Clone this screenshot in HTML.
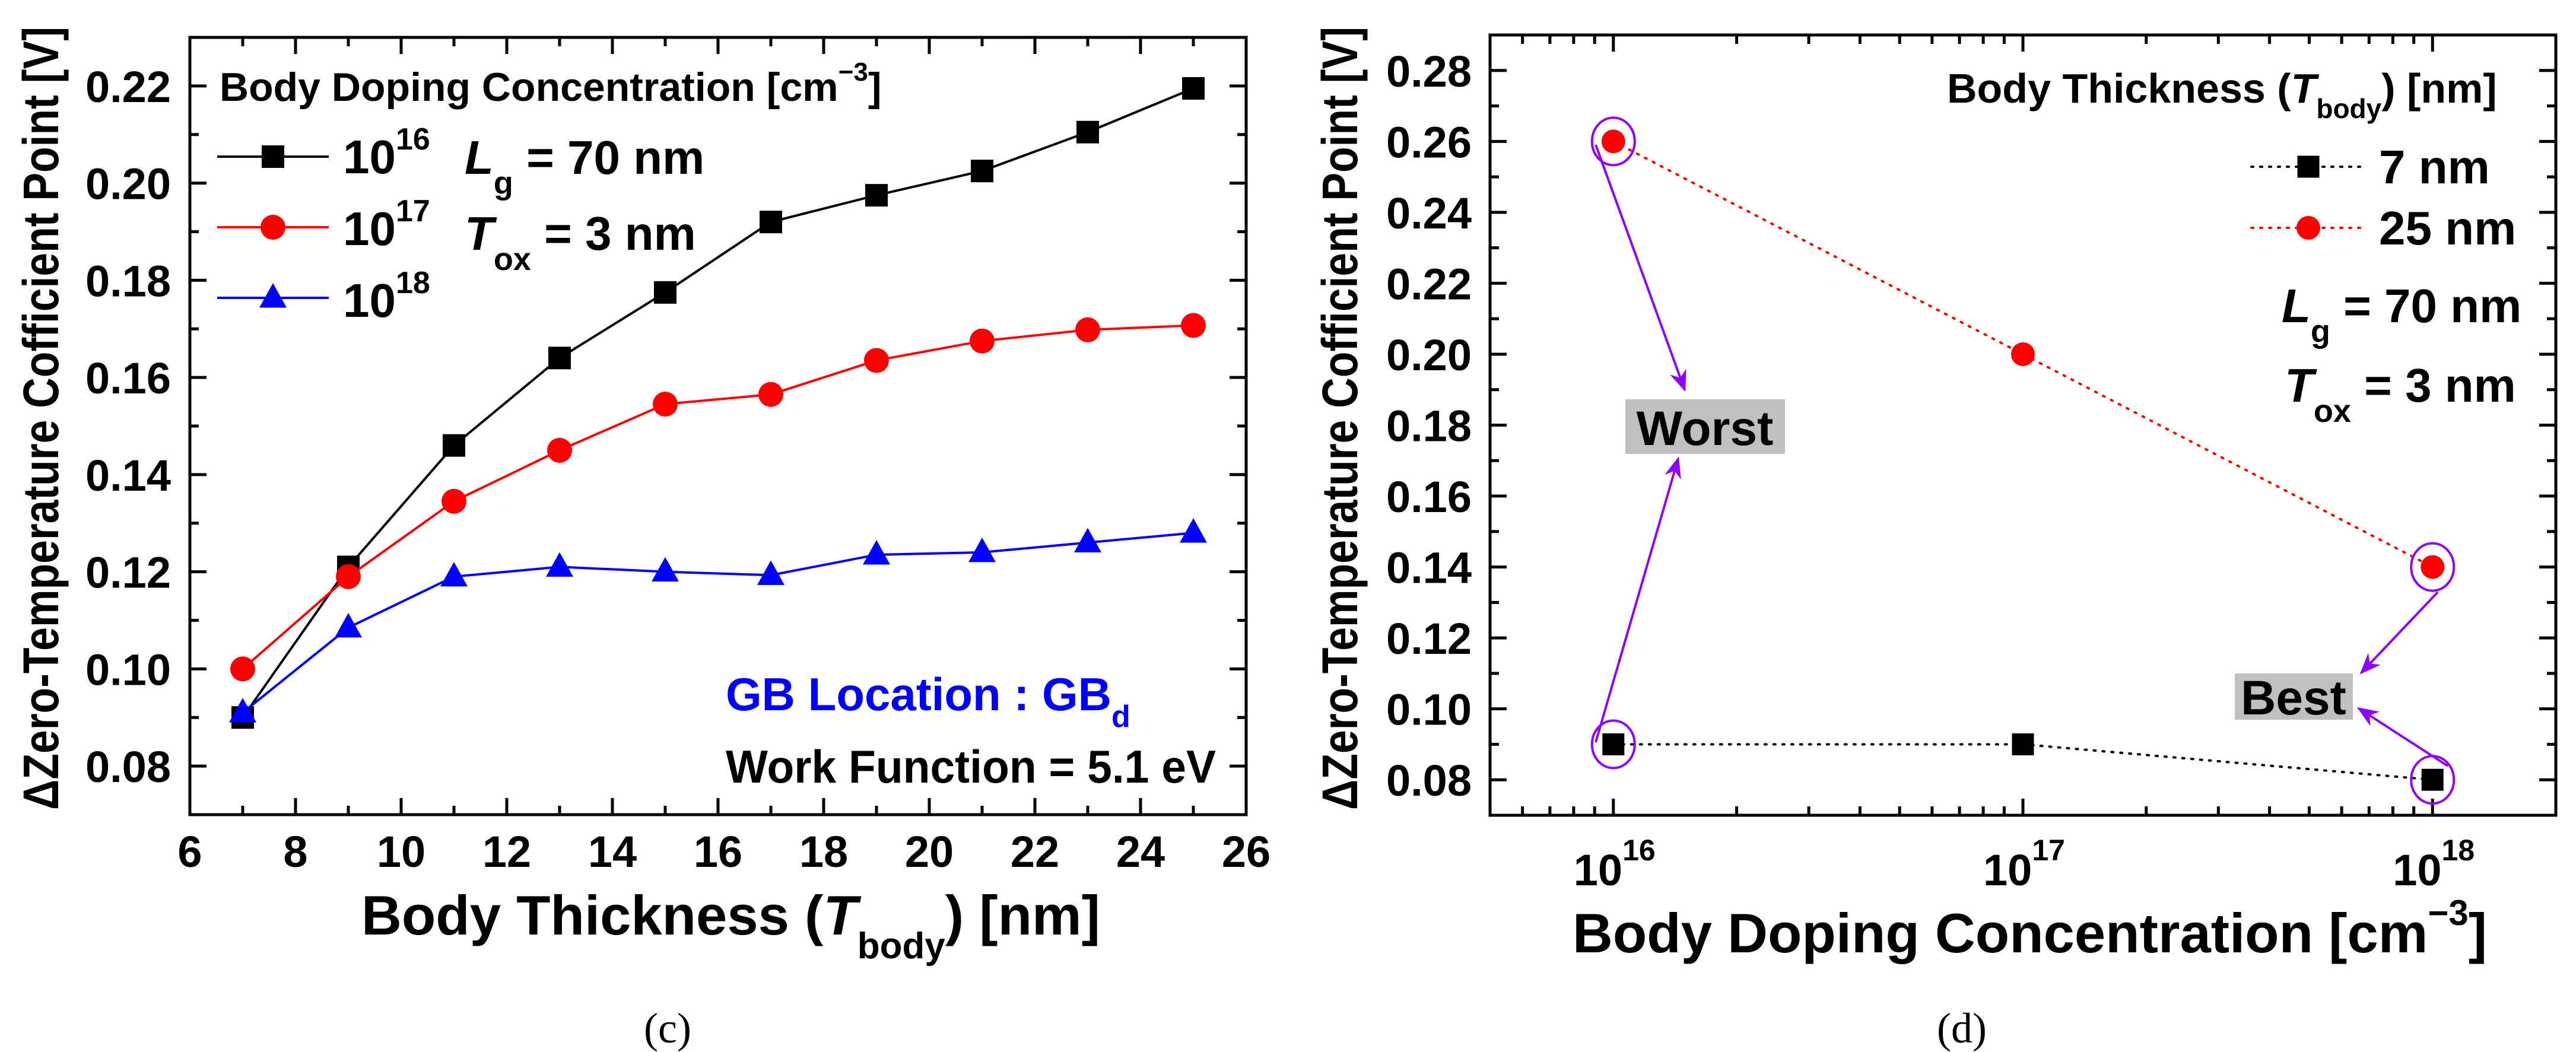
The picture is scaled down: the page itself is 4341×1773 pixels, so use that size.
<!DOCTYPE html>
<html><head><meta charset="utf-8"><style>
html,body{margin:0;padding:0;background:#fff;}
svg{display:block;font-family:"Liberation Sans",Arial,sans-serif;font-weight:bold;}
.serif{font-family:"Liberation Serif",serif;font-weight:normal;}
</style></head><body>
<svg id="fig" width="4341" height="1773" viewBox="0 0 4341 1773" xmlns="http://www.w3.org/2000/svg">
<rect x="0" y="0" width="4341" height="1773" fill="#fff"/>
<g id="left"></g>
<g id="right"></g>

<text transform="translate(98,705) rotate(-90)" text-anchor="middle" font-size="84" textLength="1320" lengthAdjust="spacingAndGlyphs">ΔZero-Temperature Cofficient Point [V]</text>
<text x="609" y="1575" font-size="94">Body Thickness (<tspan font-style="italic">T</tspan><tspan font-size="62" dy="40">body</tspan><tspan dy="-40">) [nm]</tspan></text>
<text x="370" y="170" font-size="68">Body Doping Concentration [cm<tspan font-size="44" dy="-34">−3</tspan><tspan dy="34">]</tspan></text>
<text x="578" y="292" font-size="80">10<tspan font-size="52" dy="-40">16</tspan></text>
<text x="578" y="413" font-size="80">10<tspan font-size="52" dy="-40">17</tspan></text>
<text x="578" y="534" font-size="80">10<tspan font-size="52" dy="-40">18</tspan></text>
<text x="783" y="293" font-size="80"><tspan font-style="italic">L</tspan><tspan font-size="54" dy="34">g</tspan><tspan dy="-34"> = 70 nm</tspan></text>
<text x="783" y="421" font-size="80"><tspan font-style="italic">T</tspan><tspan font-size="54" dy="34">ox</tspan><tspan dy="-34"> = 3 nm</tspan></text>
<text x="1223" y="1197" font-size="78" fill="#0000ff">GB Location : GB<tspan font-size="52" dy="28">d</tspan></text>
<text x="1223" y="1319" font-size="78" textLength="826" lengthAdjust="spacingAndGlyphs">Work Function = 5.1 eV</text>
<text class="serif" x="1125" y="1757" font-size="72" text-anchor="middle">(c)</text>

<text transform="translate(2287,705) rotate(-90)" text-anchor="middle" font-size="84" textLength="1320" lengthAdjust="spacingAndGlyphs">ΔZero-Temperature Cofficient Point [V]</text>
<text x="2650" y="1605" font-size="94">Body Doping Concentration [cm<tspan font-size="60" dy="-46">−3</tspan><tspan dy="46">]</tspan></text>
<text x="3281" y="173" font-size="70">Body Thickness (<tspan font-style="italic">T</tspan><tspan font-size="46" dy="26">body</tspan><tspan dy="-26">) [nm]</tspan></text>
<text x="4009" y="309" font-size="80">7 nm</text>
<text x="4009" y="412" font-size="80">25 nm</text>
<text x="3845" y="543" font-size="80"><tspan font-style="italic">L</tspan><tspan font-size="54" dy="34">g</tspan><tspan dy="-34"> = 70 nm</tspan></text>
<text x="3850" y="677" font-size="80"><tspan font-style="italic">T</tspan><tspan font-size="54" dy="34">ox</tspan><tspan dy="-34"> = 3 nm</tspan></text>
<rect x="2739" y="673" width="269" height="92" fill="#c0c0c0"/>
<text x="2873" y="750" font-size="82" text-anchor="middle">Worst</text>
<rect x="3766" y="1135" width="199" height="78" fill="#c0c0c0"/>
<text x="3865" y="1204" font-size="82" text-anchor="middle">Best</text>
<text class="serif" x="3306" y="1757" font-size="72" text-anchor="middle">(d)</text>
</svg>
<script>
// ---- Chart (c) data ----
const thickness = [7, 9, 11, 13, 15, 17, 19, 21, 23, 25];
const dop1e16 = [0.090, 0.121, 0.146, 0.164, 0.1775, 0.192, 0.1975, 0.2025, 0.2105, 0.2195];
const dop1e17 = [0.100, 0.119, 0.1345, 0.145, 0.1545, 0.1565, 0.1635, 0.1675, 0.1698, 0.1707];
const dop1e18 = [0.091, 0.1085, 0.119, 0.121, 0.120, 0.1193, 0.1235, 0.124, 0.126, 0.128];
const xTicksC = [6, 8, 10, 12, 14, 16, 18, 20, 22, 24, 26];
const yTicksC = [0.08, 0.10, 0.12, 0.14, 0.16, 0.18, 0.20, 0.22];
// ---- Chart (d) data ----
const doping = [1e16, 1e17, 1e18];
const t7nm = [0.090, 0.090, 0.080];
const t25nm = [0.260, 0.200, 0.140];
const xTicksD = [1e16, 1e17, 1e18];
const xTickExpD = ["16", "17", "18"];
const yTicksD = [0.08, 0.10, 0.12, 0.14, 0.16, 0.18, 0.20, 0.22, 0.24, 0.26, 0.28];

const NS = "http://www.w3.org/2000/svg";
function mk(parent, tag, attrs) {
  const e = document.createElementNS(NS, tag);
  for (const k in attrs) e.setAttribute(k, attrs[k]);
  parent.appendChild(e);
  return e;
}
const gL = document.getElementById('left');
const gR = document.getElementById('right');

const C = {x0: 320, x1: 2100, y0: 63, y1: 1373, xmin: 6, xmax: 26, ymin: 0.07, ymax: 0.23};
function cx(v) { return C.x0 + (v - C.xmin) / (C.xmax - C.xmin) * (C.x1 - C.x0); }
function cy(v) { return C.y1 - (v - C.ymin) / (C.ymax - C.ymin) * (C.y1 - C.y0); }
const D = {x0: 2511, x1: 4307, y0: 59, y1: 1374, lmin: Math.log10(5e15), lmax: Math.log10(2e18), ymin: 0.07, ymax: 0.29};
function dx(v) { return D.x0 + (Math.log10(v) - D.lmin) / (D.lmax - D.lmin) * (D.x1 - D.x0); }
function dy(v) { return D.y1 - (v - D.ymin) / (D.ymax - D.ymin) * (D.y1 - D.y0); }

function frame(g, A, name) {
  const r = mk(g, 'rect', {x: A.x0, y: A.y0, width: A.x1 - A.x0, height: A.y1 - A.y0, fill: 'none', stroke: '#000', 'stroke-width': 5});
  
  
}
function xTick(g, A, x, len) {
  const t1 = mk(g, 'line', {x1: x, x2: x, y1: A.y1, y2: A.y1 - len, stroke: '#000', 'stroke-width': 5});
  
  
  const t2 = mk(g, 'line', {x1: x, x2: x, y1: A.y0, y2: A.y0 + len, stroke: '#000', 'stroke-width': 5});
  
  
}
function yTick(g, A, y, len) {
  const t1 = mk(g, 'line', {x1: A.x0, x2: A.x0 + len, y1: y, y2: y, stroke: '#000', 'stroke-width': 5});
  
  
  const t2 = mk(g, 'line', {x1: A.x1, x2: A.x1 - len, y1: y, y2: y, stroke: '#000', 'stroke-width': 5});
  
  
}
function label(g, x, y, txt, anchor, size, name) {
  const t = mk(g, 'text', {x: x, y: y, 'text-anchor': anchor, 'font-size': size});
  t.textContent = txt;
  
  
  return t;
}
function square(g, x, y, s, fill, name) {
  const e = mk(g, 'rect', {x: x - s / 2, y: y - s / 2, width: s, height: s, fill: fill});
  
  
}
function circle(g, x, y, r, fill, name) {
  const e = mk(g, 'circle', {cx: x, cy: y, r: r, fill: fill});
  
  
}
function tri(g, x, y, s, fill, name) {
  const h = s * 0.9;
  const e = mk(g, 'polygon', {points: `${x},${y - h * 0.6} ${x - s / 2},${y + h * 0.4} ${x + s / 2},${y + h * 0.4}`, fill: fill});
  
  
}

// ---------- Chart (c) ----------
for (let v = C.xmin; v <= C.xmax; v += 1) xTick(gL, C, cx(v), (v % 2 === 0) ? 28 : 15);
for (let k = 7; k <= 23; k++) yTick(gL, C, cy(k / 100), (k % 2 === 0) ? 28 : 15);
xTicksC.forEach(v => label(gL, cx(v), 1461, String(v), 'middle', 74, 'x-tick-label'));
yTicksC.forEach(v => label(gL, 288, cy(v) + 27, v.toFixed(2), 'end', 74, 'y-tick-label'));
frame(gL, C, 'plot-frame-c');

function seriesC(vals, color, marker, name) {
  const pts = thickness.map((t, i) => cx(t) + ',' + cy(vals[i])).join(' ');
  const pl = mk(gL, 'polyline', {points: pts, fill: 'none', stroke: color, 'stroke-width': 4});
  
  
  thickness.forEach((t, i) => marker(gL, cx(t), cy(vals[i]), color, name + '-point'));
}
const sqM = (g, x, y, c, n) => square(g, x, y, 38, c, n);
const ciM = (g, x, y, c, n) => circle(g, x, y, 21, c, n);
const trM = (g, x, y, c, n) => tri(g, x, y, 46, c, n);
seriesC(dop1e16, '#000', sqM, 'series-1e16');
seriesC(dop1e17, '#ff0000', ciM, 'series-1e17');
seriesC(dop1e18, '#0000ff', trM, 'series-1e18');

[[264, '#000', sqM, 'legend-entry-1e16'], [383, '#ff0000', ciM, 'legend-entry-1e17'], [502, '#0000ff', trM, 'legend-entry-1e18']].forEach(r => {
  const ln = mk(gL, 'line', {x1: 366, x2: 554, y1: r[0], y2: r[0], stroke: r[1], 'stroke-width': 4});
  
  
  r[2](gL, 460, r[0], r[1], r[3] + '-marker');
});

// ---------- Chart (d) ----------
for (let e = 15; e <= 18; e++) {
  for (let m = 1; m <= 9; m++) {
    const v = m * Math.pow(10, e);
    if (v < 5e15 * 0.999 || v > 2e18 * 1.001) continue;
    xTick(gR, D, dx(v), m === 1 ? 28 : 15);
  }
}
for (let k = 7; k <= 29; k++) yTick(gR, D, dy(k / 100), (k % 2 === 0) ? 28 : 15);
xTicksD.forEach((v, i) => {
  const t = label(gR, dx(v) - 67, 1492, '10', 'start', 74, 'x-tick-label');
  const s = mk(t, 'tspan', {'font-size': 50, dy: -42});
  s.textContent = xTickExpD[i];
});
yTicksD.forEach(v => label(gR, 2480, dy(v) + 27, v.toFixed(2), 'end', 74, 'y-tick-label'));
frame(gR, D, 'plot-frame-d');

function seriesD(vals, color, marker, name) {
  const pts = doping.map((c, i) => dx(c) + ',' + dy(vals[i])).join(' ');
  const pl = mk(gR, 'polyline', {points: pts, fill: 'none', stroke: color, 'stroke-width': 4, 'stroke-dasharray': '3 12', 'stroke-linecap': 'round'});
  
  
  doping.forEach((c, i) => marker(gR, dx(c), dy(vals[i]), color, name + '-point'));
}
const sqD = (g, x, y, c, n) => square(g, x, y, 37, c, n);
const ciD = (g, x, y, c, n) => circle(g, x, y, 20, c, n);
seriesD(t7nm, '#000', sqD, 'series-7nm');
seriesD(t25nm, '#ff0000', ciD, 'series-25nm');

[[281, '#000', sqD, 'legend-entry-7nm'], [384, '#ff0000', ciD, 'legend-entry-25nm']].forEach(r => {
  const ln = mk(gR, 'line', {x1: 3794, x2: 3980, y1: r[0], y2: r[0], stroke: r[1], 'stroke-width': 4, 'stroke-dasharray': '3 12', 'stroke-linecap': 'round'});
  
  
  r[2](gR, 3890, r[0], r[1], r[3] + '-marker');
});

const PURPLE = '#8f00ff';
[[doping[0], t25nm[0]], [doping[0], t7nm[0]], [doping[2], t25nm[2]], [doping[2], t7nm[2]]].forEach(p => {
  const e = mk(gR, 'ellipse', {cx: dx(p[0]), cy: dy(p[1]), rx: 36, ry: 40, fill: 'none', stroke: PURPLE, 'stroke-width': 4});
  
  
});
const defs = mk(document.getElementById('fig'), 'defs', {});
const mkr = mk(defs, 'marker', {id: 'ah', markerWidth: 36, markerHeight: 36, refX: 9, refY: 5, orient: 'auto', markerUnits: 'userSpaceOnUse', viewBox: '0 0 10 10'});
mk(mkr, 'path', {d: 'M0,1 L10,5 L0,9 L3,5 Z', fill: PURPLE});
[[2689, 244, 2839, 657], [2689, 1251, 2828, 773], [4108, 998, 3979, 1134], [4125, 1291, 3975, 1194]].forEach(a => {
  const l = mk(gR, 'line', {x1: a[0], y1: a[1], x2: a[2], y2: a[3], stroke: PURPLE, 'stroke-width': 4, 'marker-end': 'url(#ah)'});
  
  
});
</script>
</body></html>
